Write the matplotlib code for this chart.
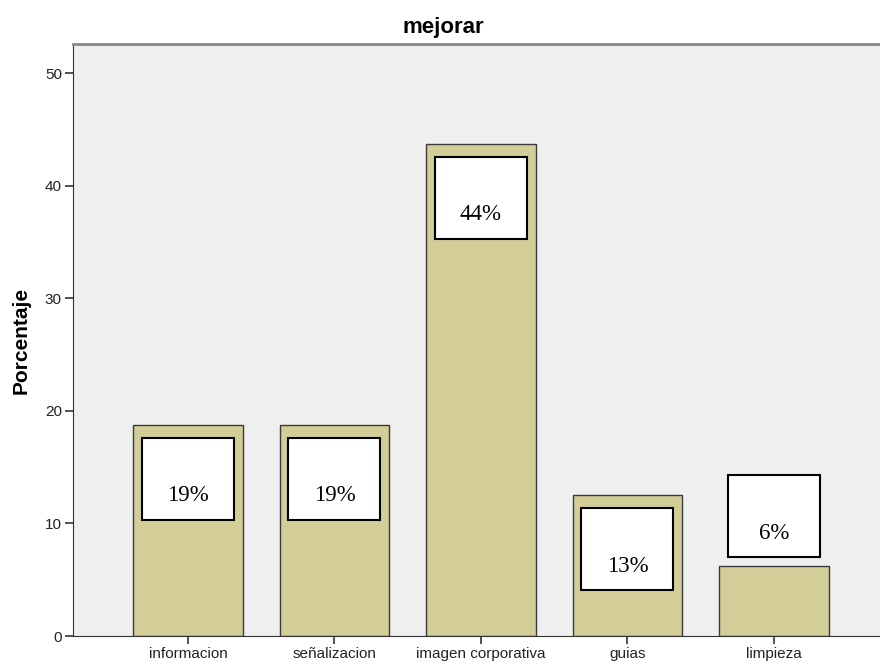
import matplotlib.pyplot as plt
from matplotlib.patches import Rectangle
import numpy as np

categories = ["informacion", "señalizacion", "imagen corporativa", "guias", "limpieza"]
percentages = [18.75, 18.75, 43.75, 12.5, 6.25]
labels = ["19%", "19%", "44%", "13%", "6%"]

plt.rcParams['font.family'] = 'Liberation Sans'

fig = plt.figure(figsize=(8.8, 6.64), dpi=100)
ax = fig.add_axes([73 / 880, 1 - 636 / 664, (880 - 73) / 880, (636 - 44) / 664])
ax.set_facecolor("#efefef")

x = np.arange(len(categories))
ax.bar(x, percentages, width=0.75, color="#d3ce97", edgecolor="#3a3a3a", linewidth=1.0, zorder=2)

# value boxes, SPSS style: inside the bar if it fits, above it otherwise
box_w, box_h = 0.628, 7.28
for xi, v, lab in zip(x, percentages, labels):
    cy = v - 4.8 if v - 4.8 - box_h / 2 > 0 else v + 4.4
    ax.add_patch(Rectangle((xi - box_w / 2, cy - box_h / 2), box_w, box_h,
                           facecolor="white", edgecolor="black", linewidth=1.5, zorder=3))
    ax.text(xi, cy - 1.5, lab, ha="center", va="center", family="Liberation Serif",
            fontsize=16.5, color="black", zorder=4)

ax.set_xlim(-0.785, 4.724)
ax.set_ylim(0, 52.6)
ax.set_yticks([0, 10, 20, 30, 40, 50])
ax.set_xticks(x, categories)
ax.tick_params(axis="both", direction="out", length=6, width=1.2, color="#333333",
               labelsize=11, labelcolor="#222222")
ax.tick_params(axis="x", pad=2)
ax.tick_params(axis="y", pad=2)

ax.spines["right"].set_visible(False)
ax.spines["top"].set_color("#888888")
ax.spines["top"].set_linewidth(2)
ax.spines["left"].set_color("#333333")
ax.spines["bottom"].set_color("#333333")

ax.set_ylabel("Porcentaje", fontsize=15, fontweight="bold", labelpad=10)
fig.text(443 / 880, 1 - 27 / 664, "mejorar", ha="center", va="center",
         fontsize=16, fontweight="bold")

fig.savefig("out.png", dpi=100)
